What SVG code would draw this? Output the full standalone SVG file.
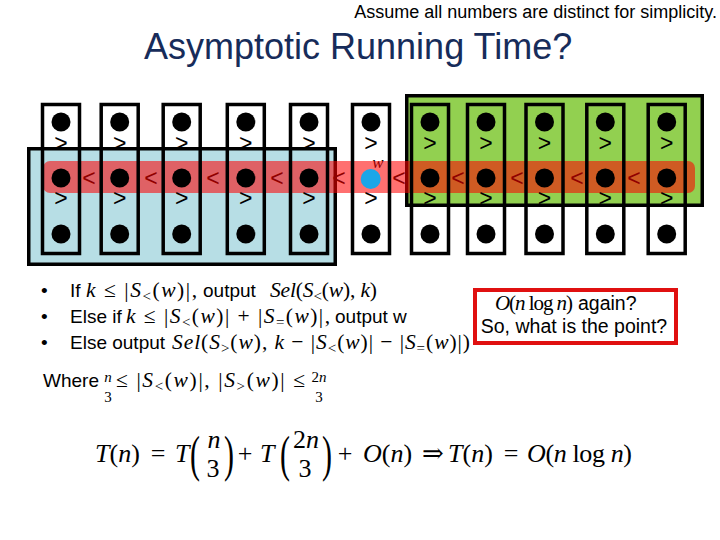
<svg xmlns="http://www.w3.org/2000/svg" width="720" height="540" viewBox="0 0 720 540">
<style>
.s{font-family:"Liberation Sans",Arial,sans-serif;fill:#000}
.m{font-family:"Liberation Serif","DejaVu Serif",serif;fill:#000}
.i{font-style:italic}
.col{fill:none;stroke:#000;stroke-width:3.5}
.dot{fill:#000}
.rel{font-family:"Liberation Sans",Arial,sans-serif;font-size:23px;fill:#000;text-anchor:middle}
.sub{font-size:15px}
</style>
<rect width="720" height="540" fill="#fff"/>

<g id="note"><text class="s" x="717" y="18" font-size="18" text-anchor="end">Assume all numbers are distinct for simplicity.</text></g>
<g id="title"><text class="s" x="144" y="59" font-size="36" style="fill:#172c5a">Asymptotic Running Time?</text></g>

<g id="set-less"><rect x="28.75" y="148.75" width="306.5" height="115.5" fill="#b7dee5" stroke="#000" stroke-width="3.5"/></g>
<g id="set-greater"><rect x="406.75" y="95.75" width="295.5" height="109.5" fill="#92d050" stroke="#000" stroke-width="3.5"/></g>

<g id="relations-less">
<text class="rel" x="89" y="186">&lt;</text>
<text class="rel" x="151" y="186">&lt;</text>
<text class="rel" x="213" y="186">&lt;</text>
<text class="rel" x="277" y="186">&lt;</text>
<text class="rel" x="339" y="186">&lt;</text>
<text class="rel" x="399" y="186">&lt;</text>
<text class="rel" x="458" y="186">&lt;</text>
<text class="rel" x="517" y="186">&lt;</text>
<text class="rel" x="577" y="186">&lt;</text>
<text class="rel" x="634" y="186">&lt;</text>
<text class="m i" x="378" y="168" font-size="17" text-anchor="middle">w</text>
</g>

<g id="band"><rect x="43" y="161" width="652" height="32" rx="7" fill="#ff0000" fill-opacity="0.56"/></g>

<g id="columns">
<g id="col-1"><rect class="col" x="42.5" y="104.5" width="37" height="149"/><circle class="dot" cx="61" cy="122" r="9.5"/><circle class="dot" cx="61" cy="178" r="9.5"/><circle class="dot" cx="61" cy="234" r="9.5"/><text class="rel" x="61" y="151">&gt;</text><text class="rel" x="61" y="206">&gt;</text></g>
<g id="col-2"><rect class="col" x="101.2" y="104.5" width="37" height="149"/><circle class="dot" cx="119.7" cy="122" r="9.5"/><circle class="dot" cx="119.7" cy="178" r="9.5"/><circle class="dot" cx="119.7" cy="234" r="9.5"/><text class="rel" x="119.7" y="151">&gt;</text><text class="rel" x="119.7" y="206">&gt;</text></g>
<g id="col-3"><rect class="col" x="163.2" y="104.5" width="37" height="149"/><circle class="dot" cx="181.7" cy="122" r="9.5"/><circle class="dot" cx="181.7" cy="178" r="9.5"/><circle class="dot" cx="181.7" cy="234" r="9.5"/><text class="rel" x="181.7" y="151">&gt;</text><text class="rel" x="181.7" y="206">&gt;</text></g>
<g id="col-4"><rect class="col" x="227.3" y="104.5" width="37" height="149"/><circle class="dot" cx="245.8" cy="122" r="9.5"/><circle class="dot" cx="245.8" cy="178" r="9.5"/><circle class="dot" cx="245.8" cy="234" r="9.5"/><text class="rel" x="245.8" y="151">&gt;</text><text class="rel" x="245.8" y="206">&gt;</text></g>
<g id="col-5"><rect class="col" x="290.5" y="104.5" width="37" height="149"/><circle class="dot" cx="309" cy="122" r="9.5"/><circle class="dot" cx="309" cy="178" r="9.5"/><circle class="dot" cx="309" cy="234" r="9.5"/><text class="rel" x="309" y="151">&gt;</text><text class="rel" x="309" y="206">&gt;</text></g>
<g id="col-6"><rect class="col" x="352.5" y="104.5" width="37" height="149"/><circle class="dot" cx="371" cy="122" r="9.5"/><circle cx="370.7" cy="179" r="10" fill="#1ba6e8"/><circle class="dot" cx="371" cy="234" r="9.5"/><text class="rel" x="371" y="151">&gt;</text><text class="rel" x="371" y="206">&gt;</text></g>
<g id="col-7"><rect class="col" x="411.5" y="104.5" width="37" height="149"/><circle class="dot" cx="430" cy="122" r="9.5"/><circle class="dot" cx="430" cy="178" r="9.5"/><circle class="dot" cx="430" cy="234" r="9.5"/><text class="rel" x="430" y="151">&gt;</text><text class="rel" x="430" y="206">&gt;</text></g>
<g id="col-8"><rect class="col" x="467.5" y="104.5" width="37" height="149"/><circle class="dot" cx="486" cy="122" r="9.5"/><circle class="dot" cx="486" cy="178" r="9.5"/><circle class="dot" cx="486" cy="234" r="9.5"/><text class="rel" x="486" y="151">&gt;</text><text class="rel" x="486" y="206">&gt;</text></g>
<g id="col-9"><rect class="col" x="526" y="104.5" width="37" height="149"/><circle class="dot" cx="544.5" cy="122" r="9.5"/><circle class="dot" cx="544.5" cy="178" r="9.5"/><circle class="dot" cx="544.5" cy="234" r="9.5"/><text class="rel" x="544.5" y="151">&gt;</text><text class="rel" x="544.5" y="206">&gt;</text></g>
<g id="col-10"><rect class="col" x="586.8" y="104.5" width="37" height="149"/><circle class="dot" cx="605.3" cy="122" r="9.5"/><circle class="dot" cx="605.3" cy="178" r="9.5"/><circle class="dot" cx="605.3" cy="234" r="9.5"/><text class="rel" x="605.3" y="151">&gt;</text><text class="rel" x="605.3" y="206">&gt;</text></g>
<g id="col-11"><rect class="col" x="648.2" y="104.5" width="37" height="149"/><circle class="dot" cx="666.7" cy="122" r="9.5"/><circle class="dot" cx="666.7" cy="178" r="9.5"/><circle class="dot" cx="666.7" cy="234" r="9.5"/><text class="rel" x="666.7" y="151">&gt;</text><text class="rel" x="666.7" y="206">&gt;</text></g>
</g>

<g id="bullets">
<text class="s" x="41" y="297" font-size="19">•</text>
<text class="s" x="41" y="323" font-size="19">•</text>
<text class="s" x="41" y="349" font-size="19">•</text>
<text class="s" x="70" y="297" font-size="19">If</text>
<text class="m" x="86" y="297" font-size="21.5" textLength="111" lengthAdjust="spacing"><tspan class="i">k</tspan> ≤ |<tspan class="i">S</tspan><tspan class="sub" dy="4">&lt;</tspan><tspan dy="-4">(</tspan><tspan class="i">w</tspan>)|,</text>
<text class="s" x="203" y="297" font-size="19">output</text>
<text class="m" x="270" y="297" font-size="21.5" textLength="107" lengthAdjust="spacing"><tspan class="i">Sel</tspan>(<tspan class="i">S</tspan><tspan class="sub" dy="4">&lt;</tspan><tspan dy="-4">(</tspan><tspan class="i">w</tspan>), <tspan class="i">k</tspan>)</text>

<text class="s" x="70" y="323" font-size="19">Else if</text>
<text class="m" x="126" y="323" font-size="21.5" textLength="204" lengthAdjust="spacing"><tspan class="i">k</tspan> ≤ |<tspan class="i">S</tspan><tspan class="sub" dy="4">&lt;</tspan><tspan dy="-4">(</tspan><tspan class="i">w</tspan>)| + |<tspan class="i">S</tspan><tspan class="sub" dy="4">=</tspan><tspan dy="-4">(</tspan><tspan class="i">w</tspan>)|,</text>
<text class="s" x="335" y="323" font-size="19">output w</text>

<text class="s" x="70" y="349" font-size="19">Else output</text>
<text class="m" x="172" y="349" font-size="21.5" textLength="298" lengthAdjust="spacing"><tspan class="i">Sel</tspan>(<tspan class="i">S</tspan><tspan class="sub" dy="4">&gt;</tspan><tspan dy="-4">(</tspan><tspan class="i">w</tspan>), <tspan class="i">k</tspan> − |<tspan class="i">S</tspan><tspan class="sub" dy="4">&lt;</tspan><tspan dy="-4">(</tspan><tspan class="i">w</tspan>)| − |<tspan class="i">S</tspan><tspan class="sub" dy="4">=</tspan><tspan dy="-4">(</tspan><tspan class="i">w</tspan>)|)</text>
</g>

<g id="where">
<text class="s" x="43" y="387" font-size="19">Where</text>
<text class="m i" x="108" y="382" font-size="15" text-anchor="middle">n</text>
<text class="m" x="108" y="402" font-size="15" text-anchor="middle">3</text>
<text class="m" x="116" y="387" font-size="21.5" textLength="189" lengthAdjust="spacing">≤ |<tspan class="i">S</tspan><tspan class="sub" dy="4">&lt;</tspan><tspan dy="-4">(</tspan><tspan class="i">w</tspan>)|, |<tspan class="i">S</tspan><tspan class="sub" dy="4">&gt;</tspan><tspan dy="-4">(</tspan><tspan class="i">w</tspan>)| ≤</text>
<text class="m" x="319" y="382" font-size="15" text-anchor="middle">2<tspan class="i">n</tspan></text>
<text class="m" x="319" y="402" font-size="15" text-anchor="middle">3</text>
</g>

<g id="callout">
<rect x="475" y="290" width="201" height="53" fill="#fff" stroke="#e01010" stroke-width="4"/>
<text class="m" x="495" y="310" font-size="21" textLength="78" lengthAdjust="spacing"><tspan class="i">O</tspan>(<tspan class="i">n</tspan> log <tspan class="i">n</tspan>)</text>
<text class="s" x="578" y="310" font-size="19.5">again?</text>
<text class="s" x="574" y="333" font-size="19.5" text-anchor="middle">So, what is the point?</text>
</g>

<g id="recurrence">
<text class="m" x="95" y="462" font-size="26"><tspan class="i">T</tspan>(<tspan class="i">n</tspan>)</text>
<text class="m" x="158" y="462" font-size="26" text-anchor="middle">=</text>
<text class="m i" x="175" y="462" font-size="26">T</text>
<text class="m" transform="translate(190,471) scale(1,1.7)" font-size="30">(</text>
<text class="m i" x="214" y="448" font-size="26" text-anchor="middle">n</text>
<text class="m" x="213" y="477" font-size="26" text-anchor="middle">3</text>
<text class="m" transform="translate(224,471) scale(1,1.7)" font-size="30">)</text>
<text class="m" x="245" y="462" font-size="26" text-anchor="middle">+</text>
<text class="m i" x="260" y="462" font-size="26">T</text>
<text class="m" transform="translate(280,471) scale(1,1.7)" font-size="30">(</text>
<text class="m" x="306" y="448" font-size="26" text-anchor="middle">2<tspan class="i">n</tspan></text>
<text class="m" x="305" y="477" font-size="26" text-anchor="middle">3</text>
<text class="m" transform="translate(322,471) scale(1,1.7)" font-size="30">)</text>
<text class="m" x="345" y="462" font-size="26" text-anchor="middle">+</text>
<text class="m" x="363" y="462" font-size="26"><tspan class="i">O</tspan>(<tspan class="i">n</tspan>)</text>
<text class="m" x="433" y="462" font-size="26" text-anchor="middle">⇒</text>
<text class="m" x="448" y="462" font-size="26"><tspan class="i">T</tspan>(<tspan class="i">n</tspan>)</text>
<text class="m" x="511" y="462" font-size="26" text-anchor="middle">=</text>
<text class="m" x="527" y="462" font-size="26" textLength="105" lengthAdjust="spacing"><tspan class="i">O</tspan>(<tspan class="i">n</tspan> log <tspan class="i">n</tspan>)</text>
</g>
</svg>
